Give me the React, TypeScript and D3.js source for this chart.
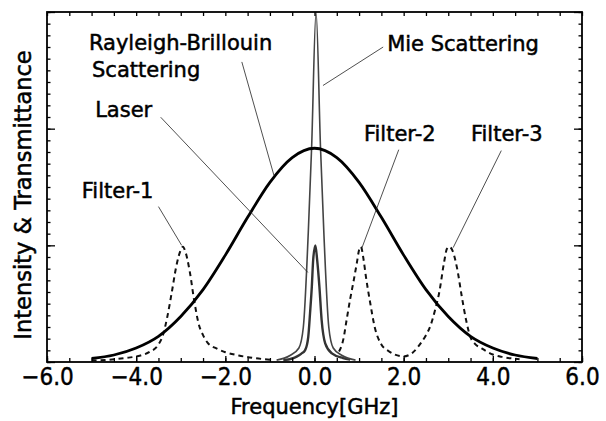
import { useRef, useEffect } from "react";
import * as d3 from "d3";

// Rayleigh-Brillouin scattering (thick solid)
const rbFreq = [-5, -4.5, -4, -3.5, -3, -2.5, -2, -1.5, -1, -0.5, 0, 0.5, 1, 1.5, 2, 2.5, 3, 3.5, 4, 4.5, 5];
const rbValue = [0.015, 0.03, 0.06, 0.11, 0.195, 0.31, 0.458, 0.62, 0.77, 0.876, 0.916, 0.876, 0.77, 0.62, 0.458, 0.31, 0.195, 0.11, 0.06, 0.03, 0.015];

// Mie scattering (tall narrow spike)
const mieFreq = [-0.85, -0.55, -0.35, -0.25, -0.14, -0.065, 0.035, 0.135, 0.21, 0.32, 0.42, 0.62, 0.92];
const mieValue = [0.008, 0.028, 0.06, 0.15, 0.553, 0.917, 1.5, 0.917, 0.553, 0.15, 0.06, 0.028, 0.008];

// Laser line
const laserFreq = [-0.7, -0.5, -0.4, -0.3, -0.21, -0.14, -0.1, -0.06, -0.03, 0.02, 0.06, 0.11, 0.16, 0.24, 0.39, 0.64, 0.8];
const laserValue = [0.008, 0.015, 0.023, 0.035, 0.051, 0.108, 0.209, 0.323, 0.437, 0.5, 0.437, 0.323, 0.18, 0.08, 0.037, 0.017, 0.01];

// Filter-1 transmittance (dashed)
const filter1Freq = [-5.0, -4.6, -4.2, -3.9, -3.7, -3.5, -3.4, -3.3, -3.2, -3.1, -3.0, -2.95, -2.9, -2.8, -2.7, -2.6, -2.5, -2.4, -2.2, -2.0, -1.7, -1.4, -1.0];
const filter1Value = [0.006, 0.01, 0.018, 0.028, 0.043, 0.075, 0.115, 0.195, 0.3, 0.41, 0.48, 0.494, 0.475, 0.39, 0.265, 0.165, 0.115, 0.083, 0.058, 0.042, 0.028, 0.018, 0.01];

// Filter-2 and Filter-3 transmittance (dashed, one trace)
const filter23Freq = [0.55, 0.65, 0.72, 0.8, 0.88, 0.95, 1.0, 1.04, 1.1, 1.15, 1.25, 1.35, 1.5, 1.65, 1.8, 2.0, 2.2, 2.4, 2.5, 2.6, 2.7, 2.8, 2.9, 2.97, 3.02, 3.1, 3.2, 3.3, 3.4, 3.5, 3.6, 3.75, 4.0, 4.2, 4.4, 4.6];
const filter23Value = [0.045, 0.1, 0.18, 0.27, 0.35, 0.425, 0.48, 0.494, 0.44, 0.37, 0.253, 0.15, 0.075, 0.048, 0.032, 0.024, 0.04, 0.085, 0.115, 0.155, 0.22, 0.3, 0.42, 0.485, 0.494, 0.475, 0.4, 0.285, 0.18, 0.105, 0.078, 0.058, 0.032, 0.022, 0.016, 0.012];

// axis ticks
const xMajorTicks = [-6, -4, -2, 0, 2, 4, 6];
const xMinorTicks = d3.range(-6, 6.001, 0.5);
const yMajorTicks = [0, 0.5, 1.0, 1.5];
const yMinorTicks = d3.range(0, 1.5001, 0.05);

// annotation texts (left / baseline, in data units)
const labelText = ["Rayleigh-Brillouin", "Scattering", "Mie Scattering", "Laser", "Filter-1", "Filter-2", "Filter-3"];
const labelFreq = [-5.06, -4.99, 1.63, -4.92, -5.22, 1.11, 3.51];
const labelValue = [1.337, 1.221, 1.335, 1.049, 0.702, 0.949, 0.949];

// leader lines: from (freq, value) to (freq, value)
const leaderFrom = [[-1.63, 1.286], [1.54, 1.35], [-3.45, 1.049], [-3.5, 0.666], [1.89, 0.91], [4.19, 0.906]];
const leaderTo = [[-0.91, 0.8], [0.19, 1.185], [-0.15, 0.384], [-2.98, 0.5], [1.066, 0.49], [3.11, 0.49]];

const W = 606;
const H = 421;
const margin = { top: 12, right: 24, bottom: 59, left: 47 };
const labelFont = "'DejaVu Sans', 'Liberation Sans', sans-serif";
const tickFont = "'Liberation Sans Narrow', 'DejaVu Sans Condensed', 'Liberation Sans', sans-serif";

export default function App() {
  const svgRef = useRef<SVGSVGElement>(null);

  useEffect(() => {
    const svgEl = svgRef.current;
    if (!svgEl) return;
    const svg = d3.select(svgEl);
    svg.selectAll("*").remove();

    const x = d3.scaleLinear().domain([-6, 6]).range([margin.left, W - margin.right]);
    const y = d3.scaleLinear().domain([0, 1.5]).range([H - margin.bottom, margin.top]);
    const bottom = H - margin.bottom;
    const right = W - margin.right;

    svg.append("rect").attr("width", W).attr("height", H).attr("fill", "#fff");

    // clip so the Mie spike stays inside the frame
    svg.append("defs").append("clipPath").attr("id", "plot-clip")
      .append("rect")
      .attr("x", margin.left).attr("y", margin.top)
      .attr("width", right - margin.left).attr("height", bottom - margin.top);

    const line = d3.line<[number, number]>()
      .x((d) => x(d[0]))
      .y((d) => y(d[1]))
      .curve(d3.curveMonotoneX);
    const zip = (f: number[], v: number[]) => f.map((d, i) => [d, v[i]] as [number, number]);

    const plot = svg.append("g").attr("clip-path", "url(#plot-clip)");

    // filters (dashed)
    [zip(filter1Freq, filter1Value), zip(filter23Freq, filter23Value)].forEach((data) => {
      plot.append("path")
        .datum(data)
        .attr("fill", "none")
        .attr("stroke", "#111")
        .attr("stroke-width", 2)
        .attr("stroke-dasharray", "5,4")
        .attr("d", line as any);
    });

    // laser
    plot.append("path")
      .datum(zip(laserFreq, laserValue))
      .attr("fill", "none")
      .attr("stroke", "#333")
      .attr("stroke-width", 2.4)
      .attr("d", line as any);

    // mie
    plot.append("path")
      .datum(zip(mieFreq, mieValue))
      .attr("fill", "none")
      .attr("stroke", "#444")
      .attr("stroke-width", 1.6)
      .attr("d", line as any);

    // rayleigh-brillouin
    plot.append("path")
      .datum(zip(rbFreq, rbValue))
      .attr("fill", "none")
      .attr("stroke", "#000")
      .attr("stroke-width", 2.8)
      .attr("d", line as any);

    // axes, ticks pointing inward
    const noLabel = () => "";
    const strip = (g: any) => g.select(".domain").remove();

    svg.append("g").attr("transform", `translate(0,${bottom})`)
      .call(d3.axisBottom(x).tickValues(xMinorTicks).tickSize(-4).tickFormat(noLabel)).call(strip);
    const xAxis = svg.append("g").attr("transform", `translate(0,${bottom})`)
      .call(d3.axisBottom(x).tickValues(xMajorTicks).tickSize(-6).tickPadding(6).tickFormat(d3.format(".1f") as any))
      .call(strip);
    xAxis.selectAll("text")
      .attr("font-family", tickFont)
      .attr("font-size", 24)
      .attr("fill", "#000")
      .attr("stroke", "#000")
      .attr("stroke-width", 0.4);

    svg.append("g").attr("transform", `translate(0,${margin.top})`)
      .call(d3.axisTop(x).tickValues(xMinorTicks).tickSize(-4).tickFormat(noLabel)).call(strip);

    svg.append("g").attr("transform", `translate(${margin.left},0)`)
      .call(d3.axisLeft(y).tickValues(yMinorTicks).tickSize(-3.5).tickFormat(noLabel)).call(strip);
    svg.append("g").attr("transform", `translate(${margin.left},0)`)
      .call(d3.axisLeft(y).tickValues(yMajorTicks).tickSize(-8).tickFormat(noLabel)).call(strip);
    svg.append("g").attr("transform", `translate(${right},0)`)
      .call(d3.axisRight(y).tickValues(yMinorTicks).tickSize(-3.5).tickFormat(noLabel)).call(strip);
    svg.append("g").attr("transform", `translate(${right},0)`)
      .call(d3.axisRight(y).tickValues(yMajorTicks).tickSize(-8).tickFormat(noLabel)).call(strip);

    svg.selectAll(".tick line").attr("stroke", "#000").attr("stroke-width", 1.3);

    // frame
    svg.append("rect")
      .attr("x", margin.left).attr("y", margin.top)
      .attr("width", right - margin.left).attr("height", bottom - margin.top)
      .attr("fill", "none").attr("stroke", "#000").attr("stroke-width", 1.8);

    // leader lines
    leaderFrom.forEach((p, i) => {
      svg.append("line")
        .attr("x1", x(p[0])).attr("y1", y(p[1]))
        .attr("x2", x(leaderTo[i][0])).attr("y2", y(leaderTo[i][1]))
        .attr("stroke", "#222").attr("stroke-width", 0.8);
    });

    // annotation labels
    labelText.forEach((t, i) => {
      svg.append("text")
        .attr("x", x(labelFreq[i])).attr("y", y(labelValue[i]))
        .attr("font-family", labelFont)
        .attr("font-size", 21)
        .attr("fill", "#000")
        .attr("stroke", "#000").attr("stroke-width", 0.5)
        .text(t);
    });

    // axis titles
    svg.append("text")
      .attr("x", (margin.left + right) / 2).attr("y", 414)
      .attr("text-anchor", "middle")
      .attr("font-family", labelFont).attr("font-size", 21)
      .attr("fill", "#000").attr("stroke", "#000").attr("stroke-width", 0.5)
      .text("Frequency[GHz]");
    svg.append("text")
      .attr("transform", `translate(31,${(margin.top + bottom) / 2 + 8}) rotate(-90)`)
      .attr("text-anchor", "middle")
      .attr("font-family", labelFont).attr("font-size", 22.5)
      .attr("fill", "#000").attr("stroke", "#000").attr("stroke-width", 0.5)
      .text("Intensity & Transmittance");
  }, []);

  return (
    <svg
      ref={svgRef}
      width={W}
      height={H}
      style={{ position: "absolute", left: 0, top: 0, display: "block" }}
    />
  );
}
